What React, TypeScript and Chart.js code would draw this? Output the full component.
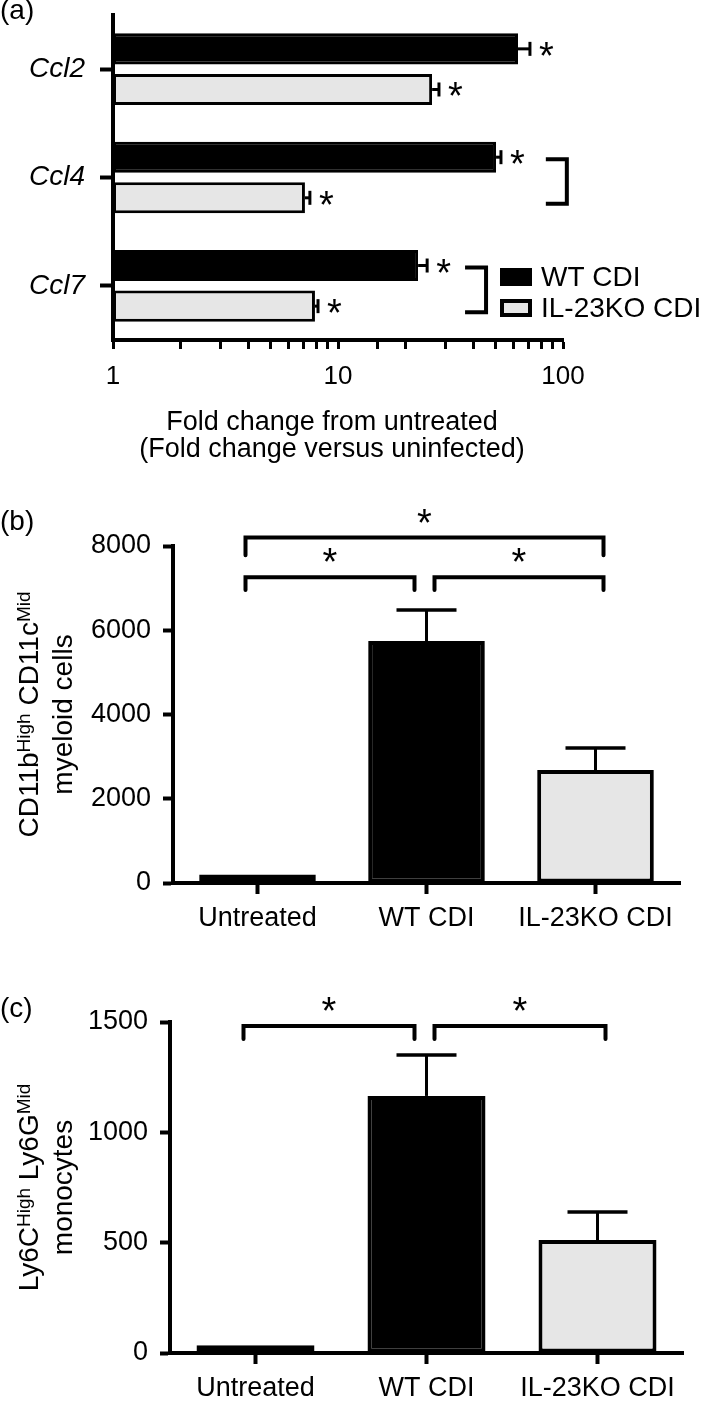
import React, { useEffect, useRef } from 'react';
import { Chart, registerables } from 'chart.js';

Chart.register(...registerables);

const FONT = '"Liberation Sans", Arial, Helvetica, sans-serif';
const GRAY = '#e6e6e6';

// ---------- Panel (a) ----------
const genes = ['Ccl2', 'Ccl4', 'Ccl7'];
const seriesNames = ['WT CDI', 'IL-23KO CDI'];
const wtFold = [63.1, 50.4, 22.7];
const wtFoldUpper = [71.3, 53.0, 24.9];
const koFold = [26.2, 7.13, 7.9];
const koFoldUpper = [28.1, 7.5, 8.15];
const foldTickLabels = [1, 10, 100];
const foldBrackets = [
  { gene: 1, at: 104 },
  { gene: 2, at: 45.5 },
];
const foldTitle = ['Fold change from untreated', '(Fold change versus uninfected)'];

// ---------- Panel (b) ----------
const groups = ['Untreated', 'WT CDI', 'IL-23KO CDI'];
const groupColors = ['#7f7f7f', '#000000', GRAY];
const myeloid = [200, 5745, 2682];
const myeloidUpper = [null, 6481, 3205];
const myeloidBrackets = [
  { from: 0, to: 2, y: 8200, leg: 7780 },
  { from: 0, to: 1, y: 7260, leg: 6955 },
  { from: 1, to: 2, y: 7260, leg: 6955 },
];
const myeloidTitle = [
  [
    { t: 'CD11b', sup: false },
    { t: 'High', sup: true },
    { t: ' CD11c', sup: false },
    { t: 'Mid', sup: true },
  ],
  [{ t: 'myeloid cells', sup: false }],
];

// ---------- Panel (c) ----------
const monocytes = [35, 1165, 512];
const monocytesUpper = [null, 1350, 639];
const monocyteBrackets = [
  { from: 0, to: 1, y: 1482, leg: 1423 },
  { from: 1, to: 2, y: 1482, leg: 1423 },
];
const monocyteTitle = [
  [
    { t: 'Ly6C', sup: false },
    { t: 'High', sup: true },
    { t: ' Ly6G', sup: false },
    { t: 'Mid', sup: true },
  ],
  [{ t: 'monocytes', sup: false }],
];

// ---------- helpers ----------
function drawStar(ctx: CanvasRenderingContext2D, cx: number, cy: number, leftAligned = false) {
  ctx.save();
  ctx.font = `38px ${FONT}`;
  ctx.fillStyle = '#000';
  ctx.textAlign = 'left';
  ctx.textBaseline = 'alphabetic';
  const m = ctx.measureText('*');
  const w = m.actualBoundingBoxRight + m.actualBoundingBoxLeft;
  const centerX = leftAligned ? cx + w / 2 : cx;
  const x = centerX - (m.actualBoundingBoxRight - m.actualBoundingBoxLeft) / 2;
  const y = cy + (m.actualBoundingBoxAscent - m.actualBoundingBoxDescent) / 2;
  ctx.fillText('*', x, y);
  ctx.restore();
}

function drawPanelLabel(ctx: CanvasRenderingContext2D, text: string, x: number, y: number) {
  ctx.save();
  ctx.font = `28px ${FONT}`;
  ctx.fillStyle = '#000';
  ctx.textAlign = 'left';
  ctx.textBaseline = 'alphabetic';
  ctx.fillText(text, x, y);
  ctx.restore();
}

function drawRotatedRich(
  ctx: CanvasRenderingContext2D,
  parts: { t: string; sup: boolean }[],
  baselineX: number,
  centerY: number
) {
  ctx.save();
  ctx.fillStyle = '#000';
  ctx.textBaseline = 'alphabetic';
  ctx.textAlign = 'left';
  const fontFor = (sup: boolean) => (sup ? `19px ${FONT}` : `28px ${FONT}`);
  let total = 0;
  const widths = parts.map((p) => {
    ctx.font = fontFor(p.sup);
    const w = ctx.measureText(p.t).width;
    total += w;
    return w;
  });
  ctx.translate(baselineX, centerY);
  ctx.rotate(-Math.PI / 2);
  let x = -total / 2;
  parts.forEach((p, i) => {
    ctx.font = fontFor(p.sup);
    ctx.fillText(p.t, x, p.sup ? -8 : 0);
    x += widths[i];
  });
  ctx.restore();
}

function drawVerticalErrorBars(chart: any, upper: (number | null)[]) {
  const ctx = chart.ctx as CanvasRenderingContext2D;
  const ys = chart.scales.y;
  const meta = chart.getDatasetMeta(0);
  ctx.save();
  ctx.strokeStyle = '#000';
  meta.data.forEach((bar: any, i: number) => {
    const u = upper[i];
    if (u == null) return;
    const ye = ys.getPixelForValue(u);
    ctx.lineWidth = 3;
    ctx.beginPath();
    ctx.moveTo(bar.x, bar.y);
    ctx.lineTo(bar.x, ye);
    ctx.stroke();
    ctx.lineWidth = 3.5;
    ctx.beginPath();
    ctx.moveTo(bar.x - 30, ye);
    ctx.lineTo(bar.x + 30, ye);
    ctx.stroke();
  });
  ctx.restore();
}

function drawGroupBrackets(
  chart: any,
  brackets: { from: number; to: number; y: number; leg: number }[],
  count: number
) {
  const ctx = chart.ctx as CanvasRenderingContext2D;
  const xs = chart.scales.x;
  const ys = chart.scales.y;
  ctx.save();
  ctx.strokeStyle = '#000';
  ctx.lineWidth = 4;
  ctx.lineCap = 'round';
  ctx.lineJoin = 'miter';
  brackets.forEach((b) => {
    const c1 = xs.getPixelForValue(b.from);
    const c2 = xs.getPixelForValue(b.to);
    const x1 = b.from === 0 ? c1 - 12 : c1 + 8;
    const x2 = b.to === count - 1 ? c2 + 8 : c2 - 12;
    const yb = ys.getPixelForValue(b.y);
    const yl = ys.getPixelForValue(b.leg);
    ctx.beginPath();
    ctx.moveTo(x1, yl);
    ctx.lineTo(x1, yb);
    ctx.lineTo(x2, yb);
    ctx.lineTo(x2, yl);
    ctx.stroke();
    drawStar(ctx, (x1 + x2) / 2, yb - 22);
  });
  ctx.restore();
}

function noPad(s: any) {
  s.paddingTop = 0;
  s.paddingBottom = 0;
  s.paddingLeft = 0;
  s.paddingRight = 0;
}

// ---------- configs ----------
function configA(): any {
  return {
    type: 'bar',
    data: {
      labels: genes,
      datasets: [
        {
          label: seriesNames[0],
          data: wtFold,
          backgroundColor: '#000',
          borderColor: '#000',
          borderWidth: 3,
          borderSkipped: false,
          categoryPercentage: 0.75,
          barPercentage: 0.765,
        },
        {
          label: seriesNames[1],
          data: koFold,
          backgroundColor: GRAY,
          borderColor: '#000',
          borderWidth: 3,
          borderSkipped: false,
          categoryPercentage: 0.75,
          barPercentage: 0.765,
        },
      ],
    },
    options: {
      indexAxis: 'y',
      responsive: false,
      animation: false,
      devicePixelRatio: 1,
      layout: { padding: { top: 15, right: 146, left: 0, bottom: 0 } },
      plugins: { legend: { display: false }, tooltip: { enabled: false } },
      scales: {
        x: {
          type: 'logarithmic',
          min: 1,
          max: 100,
          border: { width: 4, color: '#000' },
          grid: { drawOnChartArea: false, tickLength: 9, tickWidth: 3, tickColor: '#000' },
          ticks: {
            color: '#000',
            autoSkip: false,
            maxRotation: 0,
            padding: 12,
            font: { family: FONT, size: 26 },
            callback: (v: number) => (foldTickLabels.includes(v) ? String(v) : ''),
          },
          afterFit: (s: any) => {
            s.height = 130;
            noPad(s);
          },
        },
        y: {
          border: { width: 4, color: '#000' },
          grid: { offset: false, drawOnChartArea: false, tickLength: 13, tickWidth: 4, tickColor: '#000' },
          ticks: { color: '#000', padding: 15, font: { family: FONT, size: 28, style: 'italic' } },
          afterFit: (s: any) => {
            s.width = 113;
            noPad(s);
          },
        },
      },
    },
    plugins: [
      {
        id: 'decorA',
        afterDraw(chart: any) {
          const ctx = chart.ctx as CanvasRenderingContext2D;
          const xs = chart.scales.x;
          const area = chart.chartArea;
          // error bars + stars
          [wtFoldUpper, koFoldUpper].forEach((upper, di) => {
            const meta = chart.getDatasetMeta(di);
            meta.data.forEach((bar: any, i: number) => {
              const xe = xs.getPixelForValue(upper[i]);
              ctx.save();
              ctx.strokeStyle = '#000';
              ctx.lineWidth = 3;
              ctx.beginPath();
              ctx.moveTo(bar.x, bar.y);
              ctx.lineTo(xe, bar.y);
              ctx.stroke();
              ctx.beginPath();
              ctx.moveTo(xe, bar.y - 7);
              ctx.lineTo(xe, bar.y + 7);
              ctx.stroke();
              ctx.restore();
              drawStar(ctx, xe + 9, bar.y, true);
            });
          });
          // brackets
          const m0 = chart.getDatasetMeta(0);
          const m1 = chart.getDatasetMeta(1);
          ctx.save();
          ctx.strokeStyle = '#000';
          ctx.lineWidth = 4;
          ctx.lineJoin = 'miter';
          foldBrackets.forEach((b) => {
            const xv = xs.getPixelForValue(b.at);
            const y1 = m0.data[b.gene].y + 2;
            const y2 = m1.data[b.gene].y + 6;
            ctx.beginPath();
            ctx.moveTo(xv - 21, y1);
            ctx.lineTo(xv, y1);
            ctx.lineTo(xv, y2);
            ctx.lineTo(xv - 21, y2);
            ctx.stroke();
          });
          ctx.restore();
          // legend
          const lx = area.right - 63;
          const rows = [area.bottom - 63, area.bottom - 32];
          ctx.save();
          rows.forEach((yc, i) => {
            ctx.fillStyle = '#000';
            ctx.fillRect(lx, yc - 9, 32, 18);
            if (i === 1) {
              ctx.fillStyle = GRAY;
              ctx.fillRect(lx + 4, yc - 5, 24, 10);
            }
            ctx.fillStyle = '#000';
            ctx.font = `28px ${FONT}`;
            ctx.textAlign = 'left';
            ctx.textBaseline = 'middle';
            ctx.fillText(seriesNames[i], lx + 41, yc + 1);
          });
          // axis title
          ctx.font = `27px ${FONT}`;
          ctx.textAlign = 'center';
          ctx.textBaseline = 'alphabetic';
          const tx = (area.left + area.right) / 2 - 6;
          ctx.fillText(foldTitle[0], tx, area.bottom + 90);
          ctx.fillText(foldTitle[1], tx, area.bottom + 117);
          ctx.restore();
          drawPanelLabel(ctx, '(a)', 0, 19);
        },
      },
    ],
  };
}

function configBar(
  values: number[],
  upper: (number | null)[],
  brackets: { from: number; to: number; y: number; leg: number }[],
  max: number,
  step: number,
  pad: { top: number; right: number },
  axisW: number,
  axisH: number,
  title: { t: string; sup: boolean }[][],
  panel: string,
  panelY: number
): any {
  return {
    type: 'bar',
    data: {
      labels: groups,
      datasets: [
        {
          data: values,
          backgroundColor: groupColors,
          borderColor: '#000',
          borderWidth: 4,
          borderSkipped: false,
          categoryPercentage: 1,
          barPercentage: 0.69,
        },
      ],
    },
    options: {
      responsive: false,
      animation: false,
      devicePixelRatio: 1,
      layout: { padding: { top: pad.top, right: pad.right, left: 0, bottom: 0 } },
      plugins: { legend: { display: false }, tooltip: { enabled: false } },
      scales: {
        x: {
          border: { width: 4, color: '#000' },
          grid: { offset: false, drawOnChartArea: false, tickLength: 11, tickWidth: 4, tickColor: '#000' },
          ticks: {
            color: '#000',
            autoSkip: false,
            maxRotation: 0,
            padding: 8,
            font: { family: FONT, size: 27 },
          },
          afterFit: (s: any) => {
            s.height = axisH;
            noPad(s);
          },
        },
        y: {
          min: 0,
          max,
          border: { width: 4, color: '#000' },
          grid: { drawOnChartArea: false, tickLength: 10, tickWidth: 4, tickColor: '#000' },
          ticks: {
            stepSize: step,
            color: '#000',
            padding: 12,
            font: { family: FONT, size: 27 },
            callback: (v: number) => String(v),
          },
          afterFit: (s: any) => {
            s.width = axisW;
            noPad(s);
          },
        },
      },
    },
    plugins: [
      {
        id: 'decor' + panel,
        afterDraw(chart: any) {
          const ctx = chart.ctx as CanvasRenderingContext2D;
          const area = chart.chartArea;
          drawVerticalErrorBars(chart, upper);
          drawGroupBrackets(chart, brackets, groups.length);
          const cy = (area.top + area.bottom) / 2;
          drawRotatedRich(ctx, title[0], 38, cy);
          drawRotatedRich(ctx, title[1], 72, cy);
          drawPanelLabel(ctx, panel, 0, panelY);
        },
      },
    ],
  };
}

function ChartCanvas({ top, height, build }: { top: number; height: number; build: () => any }) {
  const ref = useRef<HTMLCanvasElement>(null);
  useEffect(() => {
    const chart = new Chart(ref.current as HTMLCanvasElement, build());
    return () => chart.destroy();
  }, []);
  return (
    <canvas
      ref={ref}
      width={709}
      height={height}
      style={{ position: 'absolute', left: 0, top, width: 709, height, display: 'block' }}
    />
  );
}

export default function App() {
  return (
    <div style={{ position: 'absolute', left: 0, top: 0, width: 709, height: 1418, background: '#fff', overflow: 'hidden' }}>
      <ChartCanvas top={0} height={470} build={configA} />
      <ChartCanvas
        top={470}
        height={470}
        build={() =>
          configBar(myeloid, myeloidUpper, myeloidBrackets, 8000, 2000, { top: 76, right: 29 }, 173, 57, myeloidTitle, '(b)', 60)
        }
      />
      <ChartCanvas
        top={940}
        height={478}
        build={() =>
          configBar(monocytes, monocytesUpper, monocyteBrackets, 1500, 500, { top: 82, right: 26 }, 170, 65, monocyteTitle, '(c)', 77)
        }
      />
    </div>
  );
}
